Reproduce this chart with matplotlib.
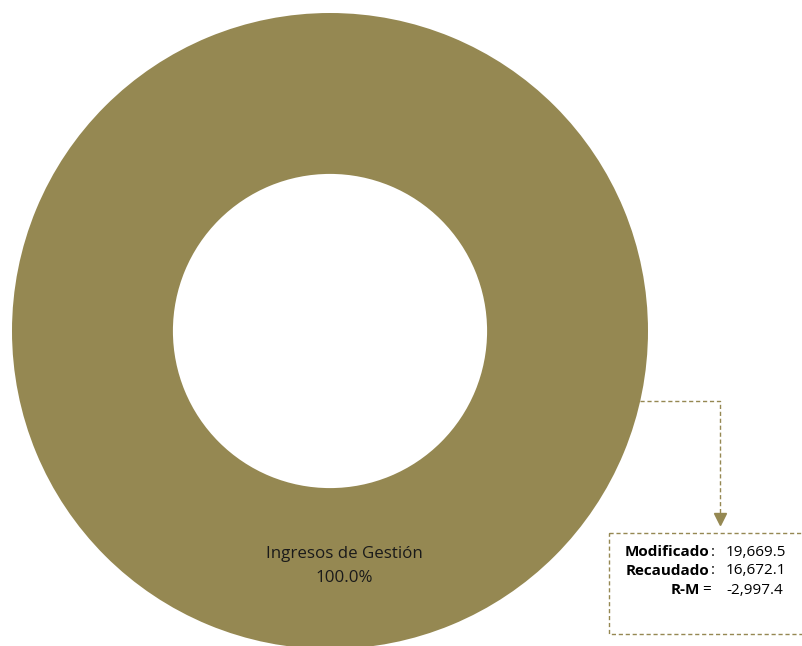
import matplotlib.pyplot as plt
from matplotlib.patches import Rectangle

# datos
categorias = ['Ingresos de Gestión']
valores = [100.0]
etiquetas_pct = ['100.0%']
campos = ['Modificado', 'Recaudado', 'R-M']
separadores = [':', ':', '=']
montos = ['19,669.5', '16,672.1', '-2,997.4']

COLOR = '#958852'
plt.rcParams['font.family'] = ['Open Sans', 'DejaVu Sans']

fig = plt.figure(figsize=(8.02, 6.46), dpi=100)
ax = fig.add_axes([0, 0, 1, 1])

# dona en coordenadas de pixel
cx, cy, r = 330, 331, 318
ax.pie(valores, colors=[COLOR], radius=r, center=(cx, cy), startangle=90,
       wedgeprops=dict(width=r * 0.506, edgecolor='none'))
ax.set_xlim(0, 802)
ax.set_ylim(646, 0)
ax.set_aspect('auto')
ax.axis('off')

ax.text(344, 554, categorias[0], ha='center', va='center', fontsize=12.2, color='#1a1a1a')
ax.text(344, 578, etiquetas_pct[0], ha='center', va='center', fontsize=12.2, color='#1a1a1a')

# conector punteado
ax.plot([640, 720, 720], [401, 401, 514], ls=(0, (3, 2)), color=COLOR, lw=1)
ax.plot([720], [519], marker='v', color=COLOR, markersize=8)

# caja
ax.add_patch(Rectangle((609, 533), 200, 101, fill=False, ls=(0, (3, 2)),
                       edgecolor=COLOR, lw=1))
for i, (c, s, m) in enumerate(zip(campos, separadores, montos)):
    y = 552 + i * 19
    xr = 709 if s == ':' else 700
    ax.text(xr, y, c, ha='right', va='center', fontsize=11, fontweight='bold', color='black')
    ax.text(xr + 2, y, s, ha='left', va='center', fontsize=11, color='black')
    ax.text(726, y, m, ha='left', va='center', fontsize=11, color='black')

fig.savefig('out.png', dpi=100)
